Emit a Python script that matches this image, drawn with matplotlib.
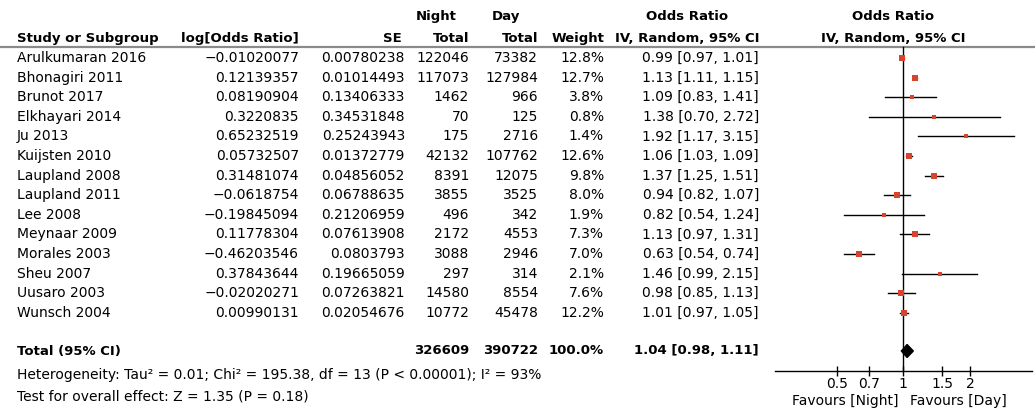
import numpy as np
import matplotlib
matplotlib.use("Agg")
import matplotlib.pyplot as plt
from matplotlib.ticker import FixedLocator, FixedFormatter, NullLocator

plt.rcParams['font.family'] = ['DejaVu Sans']

studies = ["Arulkumaran 2016", "Bhonagiri 2011", "Brunot 2017", "Elkhayari 2014",
           "Ju 2013", "Kuijsten 2010", "Laupland 2008", "Laupland 2011", "Lee 2008",
           "Meynaar 2009", "Morales 2003", "Sheu 2007", "Uusaro 2003", "Wunsch 2004"]
log_or = ["-0.01020077", "0.12139357", "0.08190904", "0.3220835", "0.65232519",
          "0.05732507", "0.31481074", "-0.0618754", "-0.19845094", "0.11778304",
          "-0.46203546", "0.37843644", "-0.02020271", "0.00990131"]
se = ["0.00780238", "0.01014493", "0.13406333", "0.34531848", "0.25243943",
      "0.01372779", "0.04856052", "0.06788635", "0.21206959", "0.07613908",
      "0.0803793", "0.19665059", "0.07263821", "0.02054676"]
night_total = [122046, 117073, 1462, 70, 175, 42132, 8391, 3855, 496, 2172, 3088, 297, 14580, 10772]
day_total = [73382, 127984, 966, 125, 2716, 107762, 12075, 3525, 342, 4553, 2946, 314, 8554, 45478]
weight = [12.8, 12.7, 3.8, 0.8, 1.4, 12.6, 9.8, 8.0, 1.9, 7.3, 7.0, 2.1, 7.6, 12.2]
odds = [0.99, 1.13, 1.09, 1.38, 1.92, 1.06, 1.37, 0.94, 0.82, 1.13, 0.63, 1.46, 0.98, 1.01]
ci_lo = [0.97, 1.11, 0.83, 0.70, 1.17, 1.03, 1.25, 0.82, 0.54, 0.97, 0.54, 0.99, 0.85, 0.97]
ci_hi = [1.01, 1.15, 1.41, 2.72, 3.15, 1.09, 1.51, 1.07, 1.24, 1.31, 0.74, 2.15, 1.13, 1.05]

total_night = 326609
total_day = 390722
total_or, total_lo, total_hi = 1.04, 0.98, 1.11
heterogeneity = "Heterogeneity: Tau\u00b2 = 0.01; Chi\u00b2 = 195.38, df = 13 (P < 0.00001); I\u00b2 = 93%"
overall = "Test for overall effect: Z = 1.35 (P = 0.18)"

tick_vals = [0.5, 0.7, 1, 1.5, 2]
tick_labels = ["0.5", "0.7", "1", "1.5", "2"]

W, H = 1035, 412
fig = plt.figure(figsize=(W / 100, H / 100), dpi=100)

# table part, drawn in pixel coordinates
tab = fig.add_axes([0, 0, 1, 1])
tab.set_xlim(0, W)
tab.set_ylim(H, 0)
tab.axis("off")

fs = 10      # body text
fb = 9.5     # bold headings
row0, dy = 58, 19.6
rows_y = [row0 + i * dy for i in range(len(studies))]
y_total = 351

# header
hy1, hy2 = 16, 38
bold = dict(fontsize=fb, weight="bold", va="center")
tab.text(17, hy2, "Study or Subgroup", **bold)
tab.text(299, hy2, "log[Odds Ratio]", ha="right", **bold)
tab.text(402, hy2, "SE", ha="right", **bold)
tab.text(416, hy1, "Night", ha="left", **bold)
tab.text(469, hy2, "Total", ha="right", **bold)
tab.text(492, hy1, "Day", ha="left", **bold)
tab.text(538, hy2, "Total", ha="right", **bold)
tab.text(604, hy2, "Weight", ha="right", **bold)
tab.text(687, hy1, "Odds Ratio", ha="center", **bold)
tab.text(687, hy2, "IV, Random, 95% CI", ha="center", **bold)
tab.text(893, hy1, "Odds Ratio", ha="center", **bold)
tab.text(893, hy2, "IV, Random, 95% CI", ha="center", **bold)
tab.plot([0, W], [47, 47], color="#8a8a8a", lw=1.6, solid_capstyle="butt")

for i, y in enumerate(rows_y):
    tab.text(17, y, studies[i], fontsize=fs, va="center")
    tab.text(299, y, log_or[i].replace("-", "\u2212"), fontsize=fs, va="center", ha="right")
    tab.text(405, y, se[i], fontsize=fs, va="center", ha="right")
    tab.text(469, y, str(night_total[i]), fontsize=fs, va="center", ha="right")
    tab.text(538, y, str(day_total[i]), fontsize=fs, va="center", ha="right")
    tab.text(604, y, f"{weight[i]:.1f}%", fontsize=fs, va="center", ha="right")
    tab.text(759, y, f"{odds[i]:.2f} [{ci_lo[i]:.2f}, {ci_hi[i]:.2f}]",
             fontsize=fs, va="center", ha="right")

tab.text(17, y_total, "Total (95% CI)", **bold)
tab.text(469, y_total, str(total_night), ha="right", **bold)
tab.text(538, y_total, str(total_day), ha="right", **bold)
tab.text(604, y_total, f"{sum(weight):.1f}%", ha="right", **bold)
tab.text(759, y_total, f"{total_or:.2f} [{total_lo:.2f}, {total_hi:.2f}]", ha="right", **bold)
tab.text(17, 375, heterogeneity, fontsize=fs, va="center")
tab.text(17, 397, overall, fontsize=fs, va="center")

# forest plot on a log axis
x0, x1 = 775, 1032
ax = fig.add_axes([x0 / W, 0, (x1 - x0) / W, 1])
ax.set_xscale("log")
ax.set_xlim(0.2635, 3.81)
ax.set_ylim(H, 0)
ax.patch.set_alpha(0)
for s in ["top", "left", "right"]:
    ax.spines[s].set_visible(False)
ax.spines["bottom"].set_position(("data", 371))
ax.spines["bottom"].set_linewidth(1.0)
ax.yaxis.set_visible(False)
ax.xaxis.set_major_locator(FixedLocator(tick_vals))
ax.xaxis.set_major_formatter(FixedFormatter(tick_labels))
ax.xaxis.set_minor_locator(NullLocator())
ax.tick_params(axis="x", direction="inout", length=7, width=1.0, labelsize=fs, pad=1)

ax.plot([1, 1], [47, 371], color="black", lw=1.0)
for i, y in enumerate(rows_y):
    ax.plot([ci_lo[i], ci_hi[i]], [y, y], color="black", lw=1.0, zorder=2)
    side = 2.4 + np.sqrt(weight[i])
    ax.plot(odds[i], y, marker="s", color="#d5442f", markersize=side * 0.72,
            markeredgewidth=0, zorder=3)

ax.fill([total_lo, total_or, total_hi, total_or],
        [y_total, y_total - 6.5, y_total, y_total + 6.5], color="black", zorder=3)

ax.text(0.956, 401, "Favours [Night]", fontsize=fs, ha="right", va="center")
ax.text(1.072, 401, "Favours [Day]", fontsize=fs, ha="left", va="center")

fig.savefig("out.png", dpi=100)
